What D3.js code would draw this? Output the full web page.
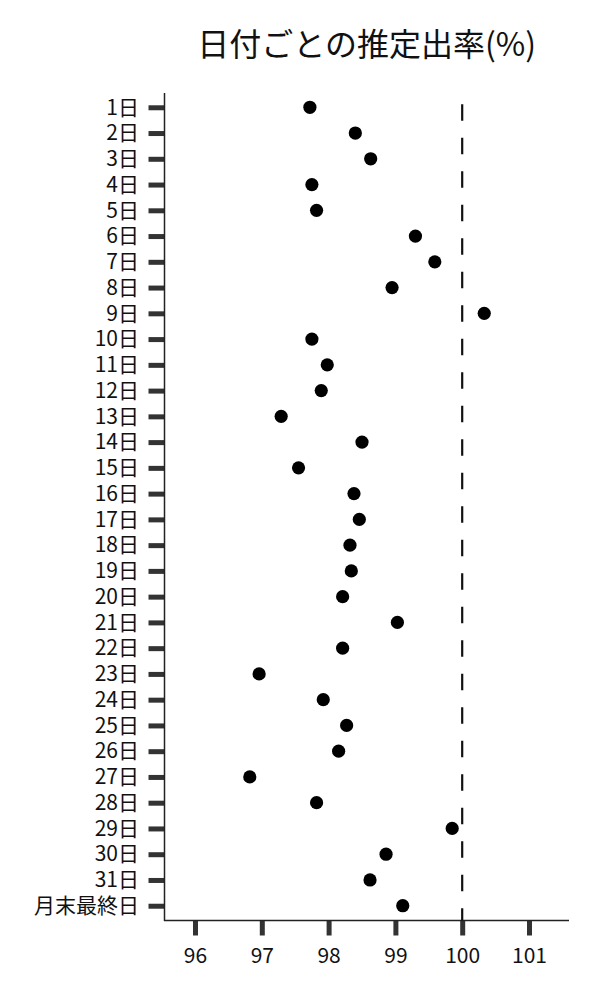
<!DOCTYPE html>
<html><head><meta charset="utf-8">
<script src="https://cdn.jsdelivr.net/npm/d3@7"></script>
<style>body{margin:0;background:#fff}svg{display:block}text{font-family:"Noto Sans CJK JP","Noto Sans",sans-serif}</style>
</head><body>
<svg id="c" width="600" height="1000"></svg>
<script>
const title = "日付ごとの推定出率(%)";
const days = ["1日","2日","3日","4日","5日","6日","7日","8日","9日","10日","11日","12日","13日","14日","15日","16日","17日","18日","19日","20日","21日","22日","23日","24日","25日","26日","27日","28日","29日","30日","31日","月末最終日"];
const rates = [97.72,98.40,98.63,97.75,97.82,99.30,99.59,98.95,100.33,97.75,97.98,97.89,97.29,98.50,97.55,98.38,98.46,98.32,98.34,98.21,99.03,98.21,96.96,97.92,98.27,98.15,96.82,97.82,99.85,98.86,98.62,99.11];
const xTicks = [96,97,98,99,100,101];
const refValue = 100;

const svg = d3.select("#c");
const L = 164.5, R = 569, T = 93, B = 920.5;

const x = d3.scaleLinear().domain([96, 101]).range([195, 529]);
const y = d3.scalePoint().domain(days).range([94.4, 918.6]).padding(0.5);

// title
svg.append("text").attr("x", (L + R) / 2).attr("y", 56).attr("text-anchor", "middle")
  .attr("font-size", 32).attr("fill", "#111").text(title);

// y axis
const ya = svg.append("g").attr("transform", `translate(${L},0)`)
  .call(d3.axisLeft(y).tickSize(16).tickPadding(9.5));
ya.select(".domain").remove();
ya.selectAll(".tick line").attr("stroke", "#333").attr("stroke-width", 5);
ya.selectAll(".tick text").attr("font-size", 21).attr("fill", "#111");

// x axis
const xa = svg.append("g").attr("transform", `translate(0,${B})`)
  .call(d3.axisBottom(x).tickValues(xTicks).tickFormat(d3.format("d")).tickSize(15).tickPadding(12.5));
xa.select(".domain").remove();
xa.selectAll(".tick line").attr("stroke", "#333").attr("stroke-width", 5);
xa.selectAll(".tick text").attr("font-size", 21).attr("fill", "#111");

// axis lines
svg.append("line").attr("x1", L).attr("x2", L).attr("y1", T).attr("y2", B + 0.5)
  .attr("stroke", "#222").attr("stroke-width", 1.5);
svg.append("line").attr("x1", L - 0.5).attr("x2", R).attr("y1", B).attr("y2", B)
  .attr("stroke", "#222").attr("stroke-width", 1.5);

// reference line
svg.append("line").attr("x1", x(refValue)).attr("x2", x(refValue)).attr("y1", 104.3).attr("y2", B)
  .attr("stroke", "#111").attr("stroke-width", 2.2).attr("stroke-dasharray", "16.5,17");

// points
svg.append("g").selectAll("circle").data(days).join("circle")
  .attr("cx", (d, i) => x(rates[i])).attr("cy", d => y(d)).attr("r", 6.6).attr("fill", "#000");
</script>
</body></html>
